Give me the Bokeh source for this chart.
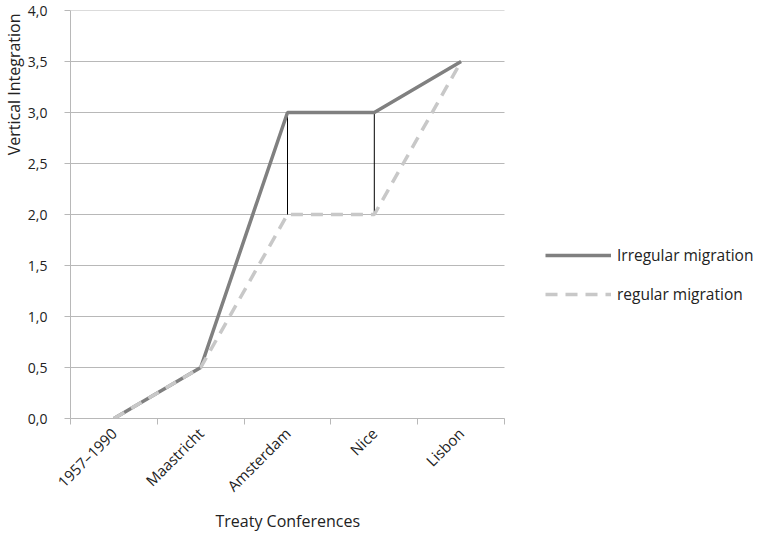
import math
from bokeh.plotting import figure
from bokeh.models import (Range1d, FixedTicker, CustomJSTickFormatter, Legend, LegendItem,
                          ColumnDataSource, Title)
from bokeh.embed import file_html
from bokeh.resources import INLINE

categories = ["1957–1990", "Maastricht", "Amsterdam", "Nice", "Lisbon"]
irregular = [0.0, 0.5, 3.0, 3.0, 3.5]
regular = [0.0, 0.5, 2.0, 2.0, 3.5]
y_ticks = [0.0, 0.5, 1.0, 1.5, 2.0, 2.5, 3.0, 3.5, 4.0]

FONT = "Open Sans"
n = len(categories)
xs = [i + 0.5 for i in range(n)]

W, H = 760, 535
LEFT, TOP = 70, 10
FRAME_BOTTOM = 418
BOTTOM = H - FRAME_BOTTOM
unit = 86.8  # px per category
x_end = (W - LEFT) / unit

p = figure(width=W, height=H, output_backend="svg", toolbar_location=None,
           x_range=Range1d(0, x_end), y_range=Range1d(0, 4),
           min_border_left=LEFT, min_border_right=0, min_border_bottom=BOTTOM, min_border_top=TOP)
p.outline_line_color = None
p.background_fill_color = "white"

grey = "#b8b8b8"
grid_src = ColumnDataSource(dict(y=y_ticks, x0=[0] * len(y_ticks), x1=[n] * len(y_ticks)))
p.segment(x0="x0", y0="y", x1="x1", y1="y", source=grid_src, line_color=grey, line_width=1)

src = ColumnDataSource(dict(x=xs, irr=irregular, reg=regular))
p.segment(x0="x", y0="reg", x1="x", y1="irr", source=src, line_color="black", line_width=1)
r_irr = p.line("x", "irr", source=src, line_color="#808080", line_width=3.5)
r_reg = p.line("x", "reg", source=src, line_color="#c8c8c8", line_width=3.5, line_dash="12 8")

# y axis
p.yaxis.ticker = FixedTicker(ticks=y_ticks)
p.yaxis.formatter = CustomJSTickFormatter(code="return tick.toFixed(1).replace('.', ',');")
p.yaxis.axis_line_color = grey
p.yaxis.major_tick_line_color = grey
p.yaxis.major_tick_in = 0
p.yaxis.major_tick_out = 6
p.yaxis.minor_tick_line_color = None
p.yaxis.major_label_standoff = 17

# x axis
p.xaxis.bounds = (0, n)
p.xaxis.ticker = FixedTicker(ticks=xs, minor_ticks=list(range(n + 1)))
p.xaxis.formatter = CustomJSTickFormatter(args=dict(labels=categories),
                                          code="return labels[Math.round(tick - 0.5)];")
p.xaxis.major_label_orientation = math.pi / 4
p.xaxis.axis_line_color = grey
p.xaxis.major_tick_line_color = None
p.xaxis.minor_tick_line_color = grey
p.xaxis.minor_tick_in = 0
p.xaxis.minor_tick_out = 6
p.xaxis.major_label_standoff = 6

for ax in (p.xaxis, p.yaxis):
    ax.major_label_text_font = FONT
    ax.major_label_text_color = "#222222"
p.yaxis.major_label_text_font_size = "14px"
p.xaxis.major_label_text_font_size = "15px"

p.xgrid.grid_line_color = None
p.ygrid.grid_line_color = None

ytitle = Title(text="Vertical Integration", align="right", text_font=FONT, text_font_size="16px",
               text_font_style="normal", text_color="#222222", standoff=0, offset=3)
p.add_layout(ytitle, "left")
xtitle = Title(text="Treaty Conferences", align="left", text_font=FONT, text_font_size="16px",
               text_font_style="normal", text_color="#222222", standoff=4, offset=145)
p.add_layout(xtitle, "below")

legend = Legend(items=[LegendItem(label="Irregular migration", renderers=[r_irr]),
                       LegendItem(label="regular migration", renderers=[r_reg])],
                location=(475, 113), border_line_color=None, background_fill_alpha=0,
                glyph_width=66, glyph_height=20, spacing=17, label_standoff=6,
                label_text_font=FONT, label_text_font_size="15.5px", label_text_color="#222222",
                margin=0, padding=0)
p.add_layout(legend, "center")

open("out.html", "w").write(file_html(p, INLINE))
